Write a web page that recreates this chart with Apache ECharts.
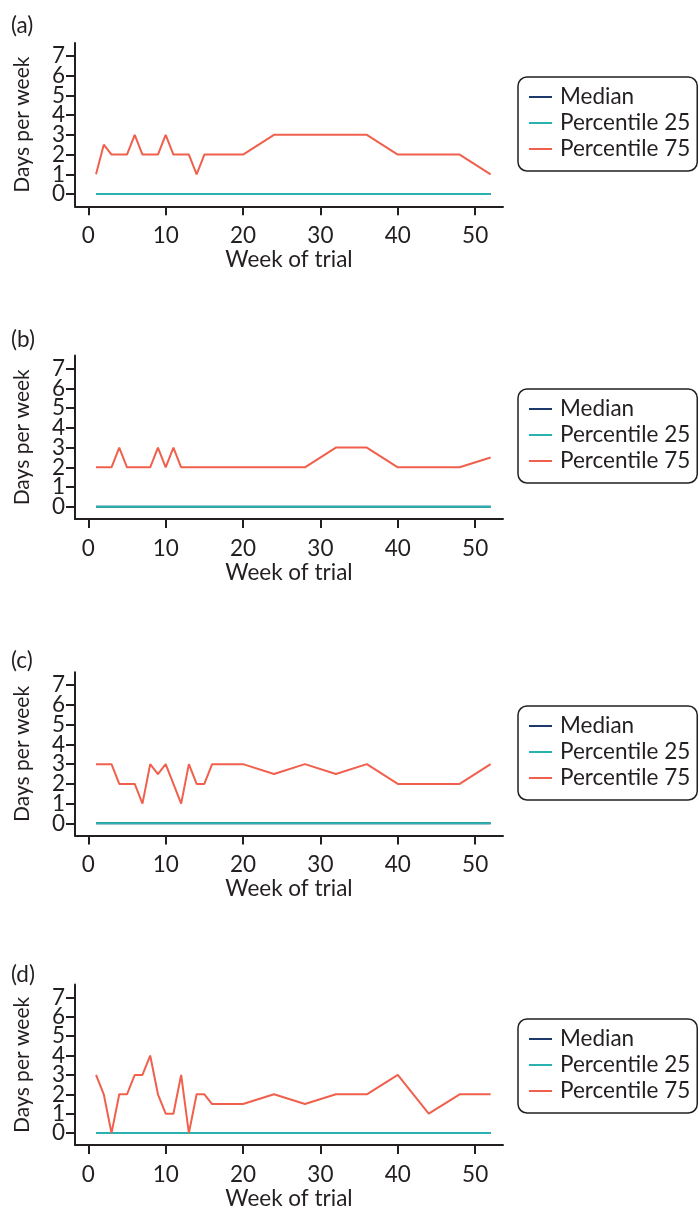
<!DOCTYPE html>
<html>
<head>
<meta charset="utf-8">
<script src="https://cdn.jsdelivr.net/npm/echarts@6/dist/echarts.min.js"></script>
<style>
html,body{margin:0;padding:0;background:#fff;}
#chart{width:699px;height:1211px;}
</style>
</head>
<body>
<div id="chart"></div>
<script>
// ---- data ----
const panelLabels = ['(a)', '(b)', '(c)', '(d)'];
const seriesNames = ['Median', 'Percentile 25', 'Percentile 75'];
const weeks = [1,2,3,4,5,6,7,8,9,10,11,12,13,14,15,16,20,24,28,32,36,40,44,48,52];
const xTickValues = [0,10,20,30,40,50];
const yTickValuesEven = [0,2,4,6];
const yTickValuesOdd = [1,3,5,7];

const medianA = [0,0,0,0,0,0,0,0,0,0,0,0,0,0,0,0,0,0,0,0,0,0,0,0,0];
const p25A    = [0,0,0,0,0,0,0,0,0,0,0,0,0,0,0,0,0,0,0,0,0,0,0,0,0];
const p75A    = [1,2.5,2,2,2,3,2,2,2,3,2,2,2,1,2,2,2,3,3,3,3,2,2,2,1];

const medianB = [0,0,0,0,0,0,0,0,0,0,0,0,0,0,0,0,0,0,0,0,0,0,0,0,0];
const p25B    = [0,0,0,0,0,0,0,0,0,0,0,0,0,0,0,0,0,0,0,0,0,0,0,0,0];
const p75B    = [2,2,2,3,2,2,2,2,3,2,3,2,2,2,2,2,2,2,2,3,3,2,2,2,2.5];

const medianC = [0,0,0,0,0,0,0,0,0,0,0,0,0,0,0,0,0,0,0,0,0,0,0,0,0];
const p25C    = [0,0,0,0,0,0,0,0,0,0,0,0,0,0,0,0,0,0,0,0,0,0,0,0,0];
const p75C    = [3,3,3,2,2,2,1,3,2.5,3,2,1,3,2,2,3,3,2.5,3,2.5,3,2,2,2,3];

const medianD = [0,0,0,0,0,0,0,0,0,0,0,0,0,0,0,0,0,0,0,0,0,0,0,0,0];
const p25D    = [0,0,0,0,0,0,0,0,0,0,0,0,0,0,0,0,0,0,0,0,0,0,0,0,0];
const p75D    = [3,2,0,2,2,3,3,4,2,1,1,3,0,2,2,1.5,1.5,2,1.5,2,2,3,1,2,2];

const panelData = [
  [medianA, p25A, p75A],
  [medianB, p25B, p75B],
  [medianC, p25C, p75C],
  [medianD, p25D, p75D]
];

// ---- layout / style ----
const colors = ['#1b3a6b', '#2ab2b0', '#f0604d'];
const axisColor = '#231f20';
const font = 'Lato';
const fs = 22.5;
const gridTops = [42.9, 355.6, 672.2, 984.6];
const gridHeight = 163.4;
const legendTops = [77, 389, 706, 1019];
const labelCenters = [26, 340, 661, 975];
const yMin = -0.62, yMax = 7.66;

const chart = echarts.init(document.getElementById('chart'), null, {renderer: 'canvas'});

const grids = [], xAxes = [], yAxes = [], series = [], legends = [], titles = [];
for (let p = 0; p < 4; p++) {
  grids.push({left: 75, top: gridTops[p], width: 428, height: gridHeight, containLabel: false});
  xAxes.push({
    type: 'value', gridIndex: p, min: -1.72, max: 53.6,
    name: 'Week of trial', nameLocation: 'middle', nameGap: 37,
    nameTextStyle: {fontFamily: font, fontSize: fs, color: axisColor},
    axisLine: {onZero: false, lineStyle: {color: axisColor, width: 2}},
    axisTick: {show: true, length: 9, lineStyle: {color: axisColor, width: 2}, customValues: xTickValues.slice()},
    axisLabel: {fontFamily: font, fontSize: fs, color: axisColor, margin: 18, hideOverlap: false, customValues: xTickValues.slice()},
    splitLine: {show: false}
  });
  // main y axis (even ticks) + companion axis (odd ticks) on the same grid
  yAxes.push({
    type: 'value', gridIndex: p, min: yMin, max: yMax, position: 'left',
    name: 'Days per week', nameLocation: 'middle', nameGap: 42,
    nameTextStyle: {fontFamily: font, fontSize: 21, color: axisColor},
    axisLine: {show: true, onZero: false, lineStyle: {color: axisColor, width: 2}},
    axisTick: {show: true, length: 9, lineStyle: {color: axisColor, width: 2}, customValues: yTickValuesEven.slice()},
    axisLabel: {fontFamily: font, fontSize: fs, color: axisColor, margin: 10,
                showMinLabel: true, showMaxLabel: true, customValues: yTickValuesEven.slice()},
    splitLine: {show: false}
  });
  yAxes.push({
    type: 'value', gridIndex: p, min: yMin, max: yMax, position: 'left', offset: 0,
    axisLine: {show: false, onZero: false},
    axisTick: {show: true, length: 9, lineStyle: {color: axisColor, width: 2}, customValues: yTickValuesOdd.slice()},
    axisLabel: {fontFamily: font, fontSize: fs, color: axisColor, margin: 10,
                showMinLabel: true, showMaxLabel: true, customValues: yTickValuesOdd.slice()},
    splitLine: {show: false}
  });
  for (let s = 0; s < 3; s++) {
    series.push({
      type: 'line', name: seriesNames[s], xAxisIndex: p, yAxisIndex: 2 * p,
      data: weeks.map((w, i) => [w, panelData[p][s][i]]),
      symbol: 'none', color: colors[s],
      lineStyle: {color: colors[s], width: 2},
      animation: false, z: 2 + s
    });
  }
  legends.push({
    left: 518, top: legendTops[p], orient: 'vertical',
    icon: 'rect', itemWidth: 23, itemHeight: 2, itemGap: 0,
    padding: [7, 7, 9, 11],
    borderColor: axisColor, borderWidth: 1.5, borderRadius: 9,
    textStyle: {fontFamily: font, fontSize: fs, color: axisColor, lineHeight: 26, padding: [0, 0, 0, 3]},
    data: seriesNames.slice()
  });
  titles.push({
    text: panelLabels[p], left: 11, top: labelCenters[p] - 13, padding: 0,
    textStyle: {fontFamily: font, fontSize: fs, fontWeight: 'normal', color: axisColor, lineHeight: 26}
  });
}

chart.setOption({
  backgroundColor: '#ffffff',
  animation: false,
  title: titles,
  legend: legends,
  grid: grids,
  xAxis: xAxes,
  yAxis: yAxes,
  series: series
});
</script>
</body>
</html>
